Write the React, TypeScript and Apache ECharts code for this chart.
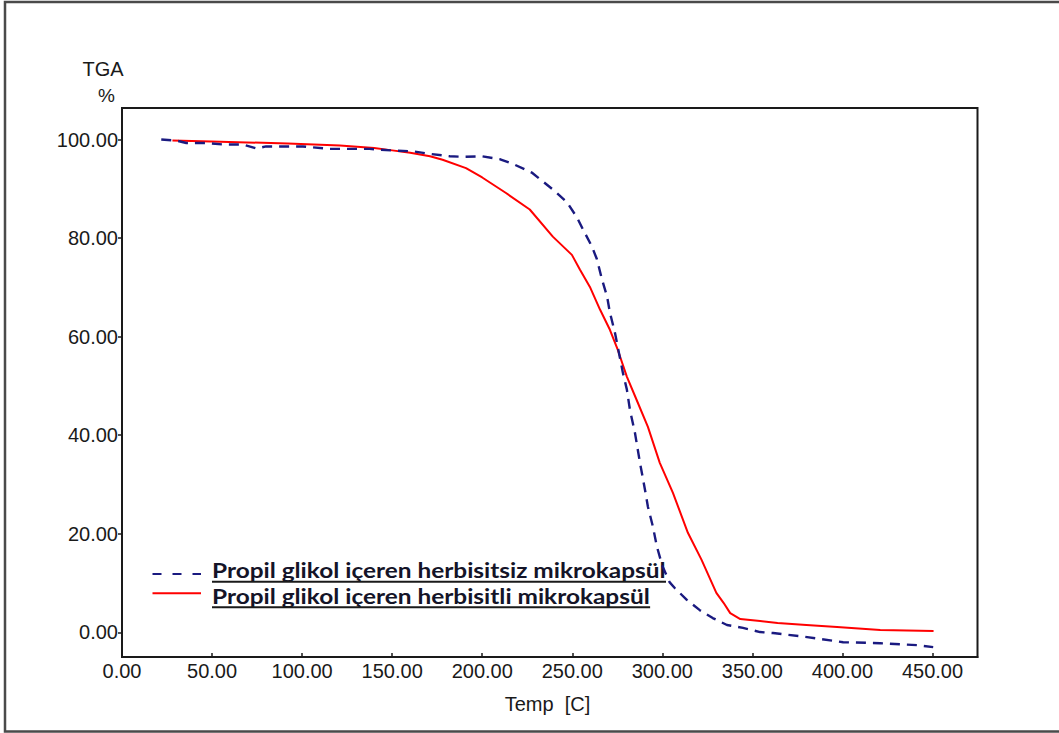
import { useEffect, useRef } from "react";
import * as echarts from "echarts";

// ---- data ----
const xTicks = [0, 50, 100, 150, 200, 250, 300, 350, 400, 450];
const yTicks = [0, 20, 40, 60, 80, 100];

const seriesNames = [
  "Propil glikol içeren herbisitsiz mikrokapsül",
  "Propil glikol içeren herbisitli mikrokapsül",
];
const xName = "Temp  [C]";
const yNameTop = "TGA";
const yNameUnit = "%";

// blue dashed: herbisitsiz
const blueTemp = [
  21.8, 30, 35.7, 46.8, 56, 67, 74.6, 80, 87.5, 100.5, 115.3, 128.2, 137.4, 149.6, 161.6, 170.9, 182,
  189.4, 200, 210, 218, 227.5, 233.7, 240.4, 247, 252.6, 255.9, 260.9, 263.7, 266.5, 269.3, 270.9,
  273.7, 278.1, 280.3, 282, 284.8, 287.6, 290.4, 292, 294.8, 297, 300, 304, 306.9, 313.6, 320.8, 328,
  335.9, 344.8, 354.3, 361.5, 380.4, 400.4, 421, 441.5, 450.4,
];
const blueTga = [
  100, 99.8, 99.3, 99.3, 99.0, 99.0, 98.2, 98.6, 98.6, 98.6, 98.1, 98.1, 98.1, 97.8, 97.6, 97.1, 96.6,
  96.5, 96.6, 96.0, 94.9, 93.3, 91.5, 89.5, 87.3, 84.2, 81.8, 78.3, 75.7, 71.6, 68.2, 64.9,
  60.8, 52.7, 49.3, 45.2, 40.5, 34.4, 28.9, 25.5, 21.4, 17.4, 13.5, 10.2, 9.0, 6.6, 4.5, 2.9,
  1.5, 0.9, 0.06, -0.14, -0.96, -2.0, -2.2, -2.6, -3.0,
];

// red solid: herbisitli
const redTemp = [
  28, 49.5, 92, 121, 140, 150, 160, 171, 178, 191, 200, 213, 226.4, 239.2, 249.8, 254.3, 259.8, 265.4,
  270.9, 275.3, 280.3, 285.7, 292, 298.6, 305.9, 314.2, 321.8, 330, 334, 337.7, 343.3, 354.3, 364, 380,
  397, 421, 450.6,
];
const redTga = [
  99.8, 99.6, 99.2, 98.8, 98.3, 97.8, 97.3, 96.6, 95.9, 94.2, 92.3, 89.2, 85.8, 80.3, 76.6, 73.6, 70.1, 65.5,
  61.4, 57.3, 51.9, 47.2, 41.7, 34.4, 28.3, 20.2, 14.7, 8.0, 6.0, 3.9, 2.7, 2.3, 1.9, 1.5,
  1.07, 0.47, 0.3,
];

const BLUE = "#1a1a80";
const RED = "#ff0000";
const INK = "#1a1a1a";
const AXIS_FONT = "Arial, 'Liberation Sans', sans-serif";
const LEGEND_FONT = "Lato, 'Open Sans', sans-serif";
const LEGEND_SIZE = 21;

export default function App() {
  const ref = useRef<HTMLDivElement>(null);

  useEffect(() => {
    if (!ref.current) return;
    document.body.style.margin = "0";

    // stretch legend text horizontally so the first entry spans like the reference
    let sx = 1;
    let w1 = 454;
    let w2 = 438;
    const ctx = document.createElement("canvas").getContext("2d");
    if (ctx) {
      ctx.font = `bold ${LEGEND_SIZE}px ${LEGEND_FONT}`;
      const a = ctx.measureText(seriesNames[0]).width;
      const b = ctx.measureText(seriesNames[1]).width;
      if (a > 0) {
        sx = 454 / a;
        w1 = a * sx;
        w2 = b * sx;
      }
    }

    const chart = echarts.init(ref.current, undefined, { renderer: "svg" });
    const legX = 212;
    const legendText = (text: string, y: number) => ({
      type: "text",
      x: legX,
      y,
      scaleX: sx,
      style: {
        text,
        fontFamily: LEGEND_FONT,
        fontWeight: "bold",
        fontSize: LEGEND_SIZE,
        lineHeight: 22,
        fill: "#141428",
        align: "left",
        verticalAlign: "middle",
      },
    });
    chart.setOption({
      animation: false,
      backgroundColor: "#ffffff",
      grid: {
        left: 122,
        top: 108,
        right: 81.5,
        bottom: 76,
        show: true,
        borderColor: INK,
        borderWidth: 2,
        backgroundColor: "transparent",
      },
      xAxis: {
        type: "value",
        min: 0,
        max: 475,
        axisLine: { show: true, onZero: false, lineStyle: { color: INK, width: 2 } },
        axisTick: {
          show: true,
          customValues: xTicks,
          inside: true,
          length: 4,
          lineStyle: { color: INK, width: 1.5 },
        },
        axisLabel: {
          customValues: xTicks,
          formatter: (v: number) => v.toFixed(2),
          fontFamily: AXIS_FONT,
          fontSize: 20,
          color: INK,
          margin: 4,
        },
        splitLine: { show: false },
      },
      yAxis: {
        type: "value",
        min: -5,
        max: 106.4,
        axisLine: { show: true, onZero: false, lineStyle: { color: INK, width: 2 } },
        axisTick: {
          show: true,
          customValues: yTicks,
          inside: false,
          length: 4,
          lineStyle: { color: INK, width: 1.5 },
        },
        axisLabel: {
          customValues: yTicks,
          formatter: (v: number) => v.toFixed(2),
          fontFamily: AXIS_FONT,
          fontSize: 20,
          color: INK,
          margin: 4,
        },
        splitLine: { show: false },
      },
      series: [
        {
          name: seriesNames[0],
          type: "line",
          symbol: "none",
          data: blueTemp.map((t, i) => [t, blueTga[i]]),
          lineStyle: { color: BLUE, width: 2.4, type: [10, 7] },
          z: 3,
        },
        {
          name: seriesNames[1],
          type: "line",
          symbol: "none",
          data: redTemp.map((t, i) => [t, redTga[i]]),
          lineStyle: { color: RED, width: 2 },
          z: 2,
        },
      ],
      graphic: [
        {
          type: "rect",
          shape: { x: 5, y: 2, width: 1080, height: 729.5 },
          style: { fill: "none", stroke: "#4a4a4a", lineWidth: 2.5 },
          silent: true,
        },
        {
          type: "text",
          x: 103,
          y: 69,
          style: {
            text: yNameTop,
            fontFamily: AXIS_FONT,
            fontSize: 20,
            fill: INK,
            align: "center",
            verticalAlign: "middle",
          },
        },
        {
          type: "text",
          x: 106.5,
          y: 95,
          style: {
            text: yNameUnit,
            fontFamily: AXIS_FONT,
            fontSize: 19,
            fill: INK,
            align: "center",
            verticalAlign: "middle",
          },
        },
        {
          type: "text",
          x: 547.5,
          y: 703.5,
          style: {
            text: xName,
            fontFamily: AXIS_FONT,
            fontSize: 20,
            fill: INK,
            align: "center",
            verticalAlign: "middle",
          },
        },
        // legend entry 1
        {
          type: "line",
          shape: { x1: 152.5, y1: 574, x2: 201, y2: 574 },
          style: { stroke: BLUE, lineWidth: 2.2, lineDash: [9, 11] },
        },
        legendText(seriesNames[0], 570.5),
        {
          type: "line",
          shape: { x1: legX, y1: 581.7, x2: legX + w1, y2: 581.7 },
          style: { stroke: INK, lineWidth: 2 },
        },
        // legend entry 2
        {
          type: "line",
          shape: { x1: 152.5, y1: 593.3, x2: 201, y2: 593.3 },
          style: { stroke: RED, lineWidth: 2 },
        },
        legendText(seriesNames[1], 596),
        {
          type: "line",
          shape: { x1: legX, y1: 607.3, x2: legX + w2, y2: 607.3 },
          style: { stroke: INK, lineWidth: 2 },
        },
      ],
    });

    return () => {
      chart.dispose();
    };
  }, []);

  return (
    <div
      ref={ref}
      style={{
        position: "fixed",
        left: 0,
        top: 0,
        width: 1059,
        height: 733,
        background: "#ffffff",
      }}
    />
  );
}
